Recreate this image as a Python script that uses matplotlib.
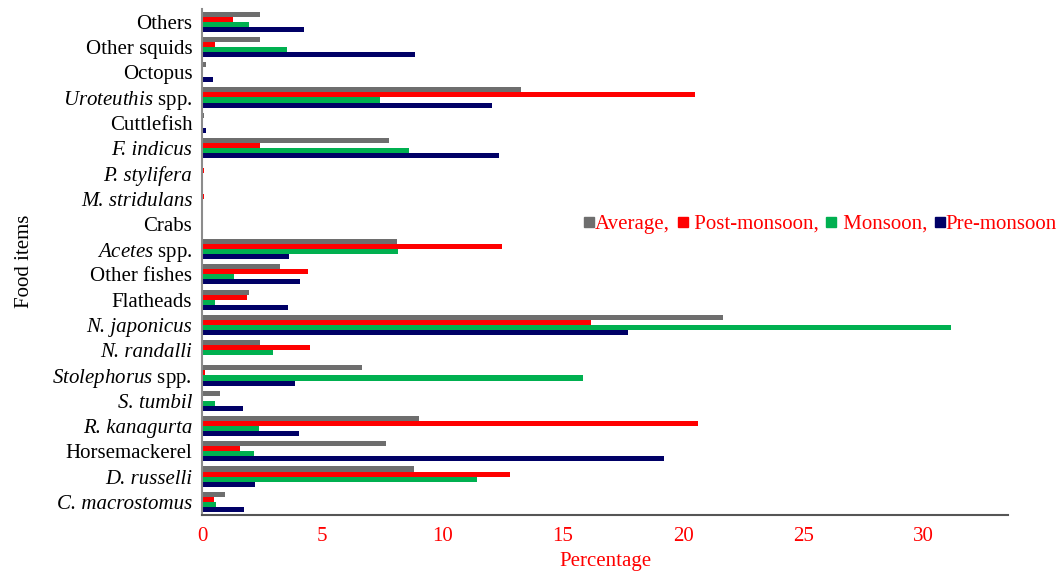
import matplotlib
matplotlib.use("Agg")
import matplotlib.pyplot as plt
import numpy as np
from matplotlib.lines import Line2D

plt.rcParams['font.family'] = ['Liberation Serif', 'DejaVu Serif']
plt.rcParams['mathtext.fontset'] = 'custom'
plt.rcParams['mathtext.rm'] = 'Liberation Serif'
plt.rcParams['mathtext.it'] = 'Liberation Serif:italic'

# Categories, listed top to bottom as displayed
categories = ["Others", "Other squids", "Octopus", r"$\mathit{Uroteuthis}$ spp.",
              "Cuttlefish", "F. indicus", "P. stylifera", "M. stridulans", "Crabs",
              r"$\mathit{Acetes}$ spp.", "Other fishes", "Flatheads", "N. japonicus",
              "N. randalli", r"$\mathit{Stolephorus}$ spp.", "S. tumbil", "R. kanagurta",
              "Horsemackerel", "D. russelli", "C. macrostomus"]
# labels written fully in italics (species names)
italic_labels = ["F. indicus", "P. stylifera", "M. stridulans", "N. japonicus",
                 "N. randalli", "S. tumbil", "R. kanagurta", "D. russelli", "C. macrostomus"]

average = [2.43, 2.43, 0.15, 13.25, 0.07, 7.76, 0.0, 0.0, 0.0, 8.10,
           3.26, 1.94, 21.66, 2.43, 6.64, 0.73, 9.02, 7.64, 8.80, 0.94]
post_monsoon = [1.27, 0.56, 0.0, 20.49, 0.0, 2.43, 0.07, 0.07, 0.0, 12.46,
                4.39, 1.86, 16.17, 4.47, 0.11, 0.0, 20.62, 1.56, 12.80, 0.48]
monsoon = [1.94, 3.52, 0.0, 7.38, 0.0, 8.59, 0.0, 0.0, 0.0, 8.14,
           1.35, 0.52, 31.15, 2.94, 15.84, 0.52, 2.35, 2.15, 11.42, 0.60]
pre_monsoon = [4.22, 8.85, 0.44, 12.05, 0.15, 12.33, 0.0, 0.0, 0.0, 3.60,
               4.06, 3.56, 17.71, 0.0, 3.85, 1.69, 4.02, 19.21, 2.19, 1.73]

series_labels = ["Average,", " Post-monsoon,", " Monsoon,", "Pre-monsoon"]
x_ticks = [0, 5, 10, 15, 20, 25, 30]

colors = ["#6E6E6E", "#FF0000", "#00B050", "#000066"]
series = [average, post_monsoon, monsoon, pre_monsoon]
offsets = [0.3, 0.1, -0.1, -0.3]

fig = plt.figure(figsize=(10.62, 5.72), dpi=100)
ax = fig.add_axes([202/1062, (572-514.5)/572, (1008-202)/1062, (514.5-9)/572])

n = len(categories)
ypos = np.arange(n)[::-1]  # top category gets highest y
for vals, col, off in zip(series, colors, offsets):
    ax.barh(ypos + off, vals, height=0.2, color=col, linewidth=0)

ax.set_ylim(-0.5, n - 0.5)
ax.set_xlim(0, 33.5)
ax.set_yticks(ypos)
ax.set_yticklabels(categories, fontsize=15)
for lab in ax.get_yticklabels():
    if lab.get_text() in italic_labels:
        lab.set_fontstyle('italic')
ax.set_xticks(x_ticks)
ax.set_xticklabels([str(t) for t in x_ticks], fontsize=15, color='#FF0000')
ax.tick_params(axis='y', length=0, pad=7)
ax.tick_params(axis='x', length=0, pad=9)

for s in ['top', 'right']:
    ax.spines[s].set_visible(False)
ax.spines['left'].set_color('#8C8C8C')
ax.spines['left'].set_linewidth(1.5)
ax.spines['bottom'].set_color('#555555')
ax.spines['bottom'].set_linewidth(1.5)

ax.set_xlabel("Percentage", fontsize=15, color='#FF0000', labelpad=4)
ax.set_ylabel("Food items", fontsize=15, color='black', labelpad=13)

handles = [Line2D([0], [0], marker='s', linestyle='none', markersize=7,
                  markerfacecolor=c, markeredgecolor=c) for c in colors]
leg = fig.legend(handles, series_labels, ncol=4, frameon=False,
                 loc='center right', bbox_to_anchor=(1057/1062, (572-224)/572),
                 fontsize=15, labelcolor='#FF0000', handlelength=0.5,
                 handletextpad=0.05, columnspacing=0.35, borderaxespad=0.0,
                 borderpad=0.0)

fig.savefig("out.png", dpi=100)
